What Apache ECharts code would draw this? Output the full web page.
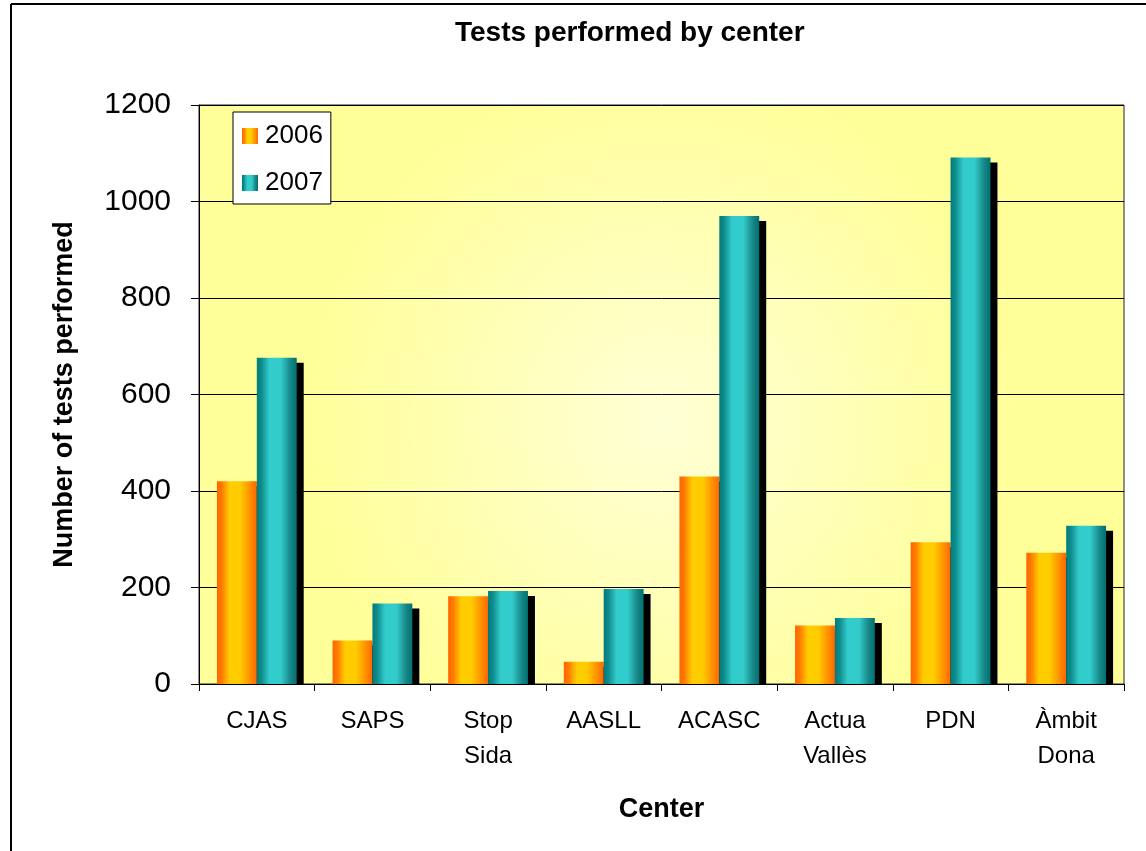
<!DOCTYPE html>
<html>
<head>
<meta charset="utf-8">
<script src="https://cdn.jsdelivr.net/npm/echarts@6/dist/echarts.min.js"></script>
<style>
  html, body { margin: 0; padding: 0; background: #fff; }
  #chart { width: 1146px; height: 851px; }
</style>
</head>
<body>
<div id="chart"></div>
<script>
// data
var centers = ['CJAS', 'SAPS', 'Stop\nSida', 'AASLL', 'ACASC', 'Actua\nVallès', 'PDN', 'Àmbit\nDona'];
var tests2006 = [420, 90, 182, 46, 430, 121, 294, 272];
var tests2007 = [676, 167, 193, 197, 970, 137, 1091, 328];
var yTicks = [0, 200, 400, 600, 800, 1000, 1200];

var chart = echarts.init(document.getElementById('chart'));

// cylinder-ish horizontal gradients like the excel bars
var orangeFill = new echarts.graphic.LinearGradient(0, 0, 1, 0, [
  { offset: 0, color: '#ff6600' },
  { offset: 0.12, color: '#ff7a00' },
  { offset: 0.32, color: '#ffcc00' },
  { offset: 0.58, color: '#ffcc00' },
  { offset: 0.85, color: '#ff8c00' },
  { offset: 1, color: '#ff6600' }
]);
var tealFill = new echarts.graphic.LinearGradient(0, 0, 1, 0, [
  { offset: 0, color: '#007b7b' },
  { offset: 0.12, color: '#0f8c8c' },
  { offset: 0.32, color: '#33cccc' },
  { offset: 0.6, color: '#33cccc' },
  { offset: 0.85, color: '#178585' },
  { offset: 1, color: '#007070' }
]);

var option = {
  backgroundColor: '#fff',
  textStyle: { fontFamily: 'Liberation Sans, Arial, sans-serif', color: '#000' },
  title: {
    text: 'Tests performed by center',
    left: 450,
    top: 14,
    textStyle: { fontSize: 28, fontWeight: 'bold', color: '#000', fontFamily: 'Liberation Sans, Arial, sans-serif' }
  },
  legend: {
    orient: 'vertical',
    left: 233,
    top: 112,
    padding: [11, 8, 8, 9],
    itemWidth: 16,
    itemHeight: 16,
    itemGap: 21,
    icon: 'rect',
    backgroundColor: '#fff',
    borderColor: '#000',
    borderWidth: 1,
    textStyle: { fontSize: 26, color: '#000', padding: [0, 0, 0, 2] },
    data: ['2006', '2007']
  },
  grid: {
    left: 199,
    right: 22,
    top: 105,
    bottom: 167,
    show: true,
    borderColor: '#222',
    borderWidth: 1,
    backgroundColor: new echarts.graphic.RadialGradient(0.5, 0.55, 0.62, [
      { offset: 0, color: '#ffffd6' },
      { offset: 1, color: '#ffff99' }
    ])
  },
  xAxis: {
    type: 'category',
    data: centers,
    z: 10,
    name: 'Center',
    nameLocation: 'middle',
    nameGap: 112,
    nameTextStyle: { fontSize: 27, fontWeight: 'bold', color: '#000' },
    axisLine: { show: true, lineStyle: { color: '#000', width: 1 } },
    axisTick: { show: true, length: 7, interval: 0, lineStyle: { color: '#000' } },
    axisLabel: { fontSize: 24, lineHeight: 35, margin: 20, color: '#000', interval: 0 },
    splitLine: { show: false }
  },
  yAxis: {
    type: 'value',
    min: yTicks[0],
    max: yTicks[yTicks.length - 1],
    interval: 200,
    name: 'Number of tests performed',
    nameLocation: 'middle',
    nameGap: 121,
    nameTextStyle: { fontSize: 27, fontWeight: 'bold', color: '#000' },
    axisLine: { show: true, lineStyle: { color: '#000', width: 1 } },
    axisTick: { show: true, length: 8, lineStyle: { color: '#000' } },
    axisLabel: { fontSize: 30, margin: 28, color: '#000', formatter: function (v) { return String(v); } },
    splitLine: { show: true, lineStyle: { color: '#000', width: 1 } }
  },
  series: [
    {
      name: '2006',
      type: 'bar',
      data: tests2006,
      barGap: '0%',
      barCategoryGap: '31%',
      itemStyle: {
        color: orangeFill,
        shadowColor: '#000',
        shadowBlur: 0,
        shadowOffsetX: 7,
        shadowOffsetY: 5
      }
    },
    {
      name: '2007',
      type: 'bar',
      data: tests2007,
      itemStyle: {
        color: tealFill,
        shadowColor: '#000',
        shadowBlur: 0,
        shadowOffsetX: 7,
        shadowOffsetY: 5
      }
    }
  ],
  graphic: [
    // hide bar shadows that leak under the x axis
    { type: 'rect', z: 5, silent: true, shape: { x: 200, y: 685, width: 940, height: 8 }, style: { fill: '#fff' } },
    // outer chart border (left and top only visible)
    { type: 'line', z: 5, silent: true, shape: { x1: 11, y1: 4, x2: 11, y2: 851 }, style: { stroke: '#000', lineWidth: 2 } },
    { type: 'line', z: 5, silent: true, shape: { x1: 11, y1: 4, x2: 1146, y2: 4 }, style: { stroke: '#000', lineWidth: 2 } }
  ]
};

chart.setOption(option);
</script>
</body>
</html>
